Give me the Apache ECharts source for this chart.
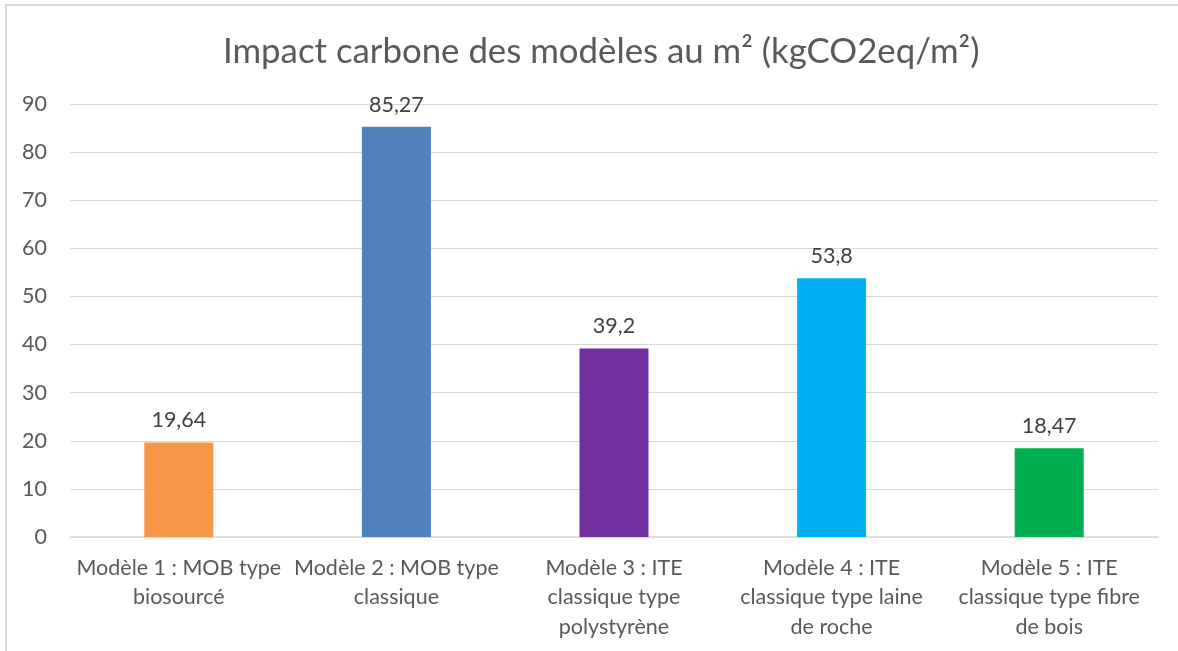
<!DOCTYPE html>
<html>
<head>
<meta charset="utf-8">
<script src="https://cdn.jsdelivr.net/npm/echarts@6/dist/echarts.min.js"></script>
<style>
	html, body { margin: 0; padding: 0; background: #fff; }
	#frame {
		position: absolute; left: 5px; top: 4px; width: 1200px; height: 700px;
		border-left: 2px solid #d9d9d9; border-top: 2px solid #d9d9d9;
	}
	#main { position: absolute; left: 0; top: 0; width: 1178px; height: 651px; }
</style>
</head>
<body>
<div id="frame"></div>
<div id="main"></div>
<script>
// catégories et valeurs
var categories = ['Modèle 1', 'Modèle 2', 'Modèle 3', 'Modèle 4', 'Modèle 5'];
var tickLabels = [
	'Modèle 1 : MOB type\nbiosourcé',
	'Modèle 2 : MOB type\nclassique',
	'Modèle 3 : ITE\nclassique type\npolystyrène',
	'Modèle 4 : ITE\nclassique type laine\nde roche',
	'Modèle 5 : ITE\nclassique type fibre\nde bois'
];
var values = [19.64, 85.27, 39.2, 53.8, 18.47];
var colors = ['#F79646', '#4F81BD', '#7030A0', '#00B0F0', '#00B050'];

var font = 'Lato, "Open Sans", sans-serif';
var myChart = echarts.init(document.getElementById('main'));

var option = {
	animation: false,
	title: {
		text: 'Impact carbone des modèles au m² (kgCO2eq/m²)',
		left: 218,
		top: 29,
		textStyle: { fontFamily: font, fontSize: 34.8, fontWeight: 'normal', color: '#595959' }
	},
	grid: { left: 70, right: 20, top: 104, bottom: 114, outerBoundsMode: 'none' },
	xAxis: {
		type: 'category',
		data: categories,
		axisTick: { show: false },
		axisLine: { lineStyle: { color: '#d9d9d9', width: 1.5 } },
		axisLabel: {
			interval: 0,
			margin: 16,
			fontFamily: font, fontSize: 21.5, color: '#595959', lineHeight: 29.5,
			formatter: function (v, i) { return tickLabels[i]; }
		}
	},
	yAxis: {
		type: 'value',
		min: 0, max: 90, interval: 10,
		axisLine: { show: false },
		axisTick: { show: false },
		splitLine: { lineStyle: { color: '#d9d9d9', width: 1 } },
		axisLabel: { margin: 23, fontFamily: font, fontSize: 21.5, color: '#595959' }
	},
	series: [{
		type: 'bar',
		barWidth: 69,
		data: values.map(function (v, i) {
			return { value: v, itemStyle: { color: colors[i] } };
		}),
		label: {
			show: true,
			position: 'top',
			distance: 11,
			fontFamily: font, fontSize: 21.5, color: '#404040',
			formatter: function (p) { return String(p.value).replace('.', ','); }
		}
	}]
};
myChart.setOption(option);
</script>
</body>
</html>
